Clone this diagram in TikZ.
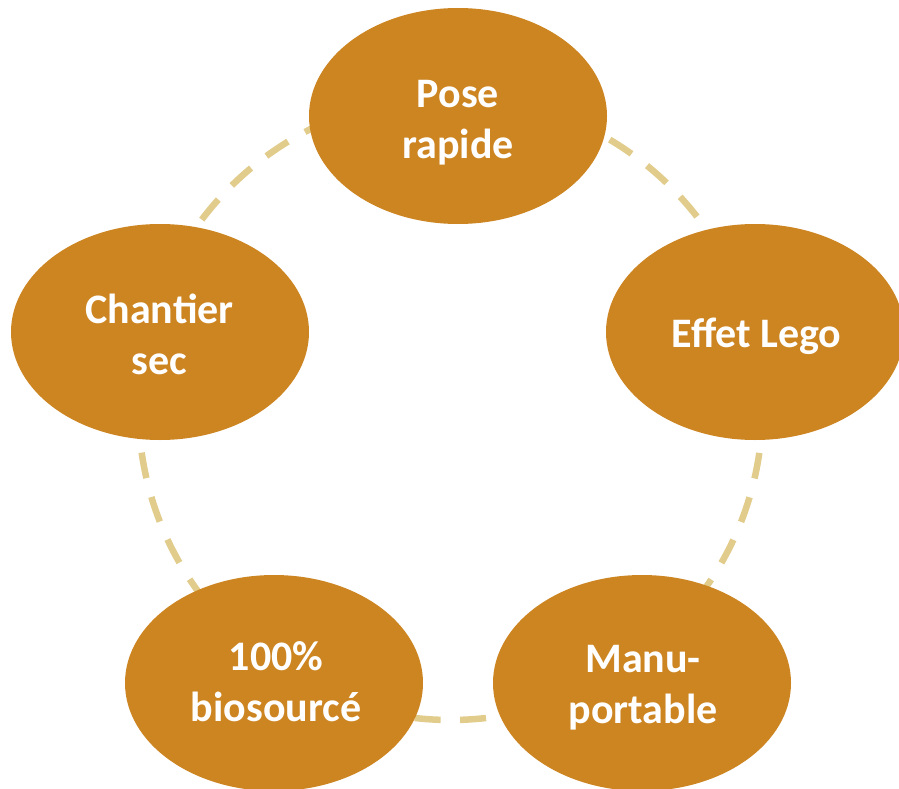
\documentclass[tikz,border=0pt]{standalone}
\usepackage{fontspec}
\setmainfont{Carlito}
\usetikzlibrary{shapes.geometric}
\definecolor{petal}{RGB}{205,133,34}
\definecolor{ringcol}{RGB}{225,204,140}
\begin{document}
\begin{tikzpicture}[x=1pt,y=-1pt,
  bubble/.style={ellipse, fill=petal, draw=none, minimum width=298pt, minimum height=216pt, inner sep=0pt},
  lbl/.style={text=white, font=\bfseries\fontsize{42}{51}\selectfont, align=center, inner sep=0pt},
  ringline/.style={draw=ringcol, line width=6.5pt, dash pattern=on 26pt off 19.5pt, dash phase=21.45pt}]
\useasboundingbox (0,0) rectangle (899,789);
\coordinate (hub) at (450.5,408);
\draw[ringline] (hub) circle[radius=312pt];
\node[bubble] (pose) at (458,116) {};
\node[bubble] (lego) at (755,332) {};
\node[bubble] (manu) at (642,683) {};
\node[bubble] (bio) at (274,683) {};
\node[bubble] (sec) at (160,332) {};
\node[lbl] (poseT) at (458,122.25) {Pose\\rapide};
\node[lbl] (legoT) at (756.5,336.5) {Effet Lego};
\node[lbl] (manuT) at (643,688) {Manu-\\portable};
\node[lbl] (bioT) at (276,682) {100\%\\biosourcé};
\node[lbl] (secT) at (159.5,334) {Chantier\\sec};
\end{tikzpicture}
\end{document}
